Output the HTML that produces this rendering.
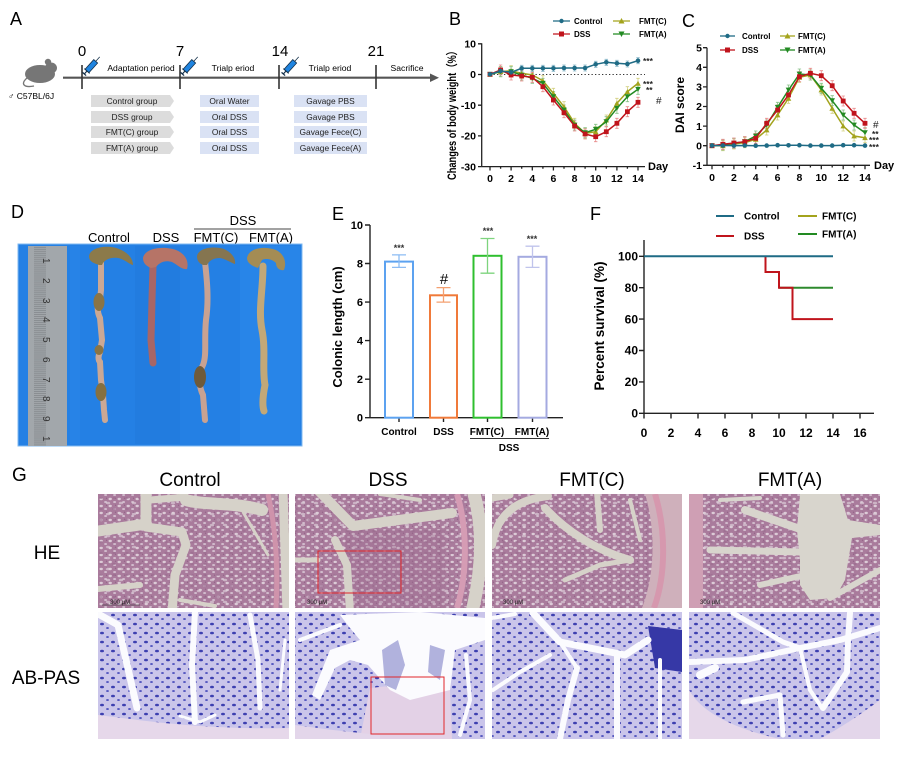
<!DOCTYPE html>
<html><head><meta charset="utf-8"><style>
html,body{margin:0;padding:0;background:#fff;}
svg{display:block;font-family:"Liberation Sans",Arial,sans-serif;}
.b{font-weight:bold;}
</style></head><body>
<svg width="900" height="771" viewBox="0 0 900 771" xmlns="http://www.w3.org/2000/svg">
<defs>
<pattern id="he" width="9" height="7" patternUnits="userSpaceOnUse">
<rect width="9" height="7" fill="#a97b9c"/>
<ellipse cx="2.2" cy="2" rx="1.7" ry="1.2" fill="#dccbd7"/>
<ellipse cx="6.6" cy="5" rx="1.5" ry="1" fill="#d2bccd"/>
<circle cx="7.5" cy="1.2" r="0.6" fill="#8e5f84"/>
</pattern>
<pattern id="he2" width="13" height="11" patternUnits="userSpaceOnUse">
<rect width="13" height="11" fill="none"/>
<ellipse cx="4" cy="8" rx="2.2" ry="1.3" fill="#dccbd7" opacity="0.7"/>
<ellipse cx="10" cy="3" rx="1.8" ry="1.1" fill="#9a6a8e" opacity="0.6"/>
</pattern>
<pattern id="ab" width="11" height="9" patternUnits="userSpaceOnUse">
<rect width="11" height="9" fill="#cac5ea"/>
<ellipse cx="3" cy="3" rx="2" ry="1.3" fill="#3d40b0"/>
<ellipse cx="8.5" cy="7" rx="1.4" ry="1" fill="#5659c0"/>
</pattern>
<pattern id="rul" width="40" height="1.975" patternUnits="userSpaceOnUse">
<line x1="0" y1="0.5" x2="6" y2="0.5" stroke="#6f7478" stroke-width="0.5"/>
<line x1="34" y1="0.5" x2="40" y2="0.5" stroke="#6f7478" stroke-width="0.5"/>
</pattern>
<marker id="mC" markerWidth="6" markerHeight="6" refX="3" refY="3" markerUnits="userSpaceOnUse"><circle cx="3" cy="3" r="2.3" fill="#1f6b85"/></marker>
<marker id="mD" markerWidth="6" markerHeight="6" refX="3" refY="3" markerUnits="userSpaceOnUse"><rect x="0.6" y="0.6" width="4.8" height="4.8" fill="#c0141c"/></marker>
<marker id="mF" markerWidth="6" markerHeight="6" refX="3" refY="3" markerUnits="userSpaceOnUse"><path d="M3,0.4 L5.8,5.4 L0.2,5.4Z" fill="#a3a31c"/></marker>
<marker id="mA" markerWidth="6" markerHeight="6" refX="3" refY="3" markerUnits="userSpaceOnUse"><path d="M0.2,0.6 L5.8,0.6 L3,5.6Z" fill="#228a22"/></marker>
<marker id="eD" markerWidth="6" markerHeight="12" refX="3" refY="6" markerUnits="userSpaceOnUse"><path d="M3,1 V11 M1.3,1 H4.7 M1.3,11 H4.7" stroke="#e88a8a" stroke-width="0.8" fill="none"/></marker>
<marker id="eF" markerWidth="6" markerHeight="12" refX="3" refY="6" markerUnits="userSpaceOnUse"><path d="M3,1 V11 M1.3,1 H4.7 M1.3,11 H4.7" stroke="#d2d080" stroke-width="0.8" fill="none"/></marker>
<marker id="eA" markerWidth="6" markerHeight="12" refX="3" refY="6" markerUnits="userSpaceOnUse"><path d="M3,1 V11 M1.3,1 H4.7 M1.3,11 H4.7" stroke="#86c086" stroke-width="0.8" fill="none"/></marker>
<marker id="eC" markerWidth="6" markerHeight="8" refX="3" refY="4" markerUnits="userSpaceOnUse"><path d="M3,1 V7 M1.3,1 H4.7 M1.3,7 H4.7" stroke="#86b6c8" stroke-width="0.8" fill="none"/></marker>
<g id="syr">
<rect x="0" y="-2.6" width="13" height="5.2" fill="#1f84e0" stroke="#14304a" stroke-width="0.8"/>
<line x1="13" y1="0" x2="19" y2="0" stroke="#14304a" stroke-width="0.8"/>
<line x1="-4" y1="0" x2="0" y2="0" stroke="#14304a" stroke-width="1.2"/>
<line x1="-4" y1="-2.4" x2="-4" y2="2.4" stroke="#14304a" stroke-width="1.2"/>
<line x1="0" y1="-3.6" x2="0" y2="3.6" stroke="#14304a" stroke-width="1"/>
</g>
<clipPath id="c1"><rect x="98" y="494" width="191" height="114"/></clipPath>
<clipPath id="c2"><rect x="295" y="494" width="190" height="114"/></clipPath>
<clipPath id="c3"><rect x="492" y="494" width="190" height="114"/></clipPath>
<clipPath id="c4"><rect x="689" y="494" width="191" height="114"/></clipPath>
<clipPath id="c5"><rect x="98" y="612" width="191" height="127"/></clipPath>
<clipPath id="c6"><rect x="295" y="612" width="190" height="127"/></clipPath>
<clipPath id="c7"><rect x="492" y="612" width="190" height="127"/></clipPath>
<clipPath id="c8"><rect x="689" y="612" width="191" height="127"/></clipPath>
</defs>

<!-- ================= Panel A ================= -->
<text x="10" y="25" font-size="18">A</text>
<g fill="#767676">
<ellipse cx="40" cy="74" rx="15" ry="9"/>
<ellipse cx="51" cy="68" rx="6" ry="5.5"/>
<circle cx="48" cy="62" r="3.2"/>
<path d="M27,78 C20,84 24,88 34,86" stroke="#767676" stroke-width="1.3" fill="none"/>
</g>
<text x="8" y="99" font-size="8.5">♂ C57BL/6J</text>
<line x1="63" y1="77.7" x2="432" y2="77.7" stroke="#555" stroke-width="2.2"/>
<path d="M430,73.5 L439,77.7 L430,82 Z" fill="#555"/>
<g stroke="#333" stroke-width="1.6">
<line x1="82" y1="65" x2="82" y2="89"/>
<line x1="180" y1="65" x2="180" y2="89"/>
<line x1="279" y1="65" x2="279" y2="89"/>
<line x1="376" y1="65" x2="376" y2="89"/>
</g>
<g font-size="15">
<text x="82" y="56" text-anchor="middle">0</text>
<text x="180" y="56" text-anchor="middle">7</text>
<text x="280" y="56" text-anchor="middle">14</text>
<text x="376" y="56" text-anchor="middle">21</text>
</g>
<use href="#syr" transform="translate(87,71) rotate(-48)"/>
<use href="#syr" transform="translate(185,71) rotate(-48)"/>
<use href="#syr" transform="translate(286,71) rotate(-48)"/>
<g font-size="8.6" text-anchor="middle">
<text x="141" y="71">Adaptation period</text>
<text x="233" y="71">Trialp eriod</text>
<text x="330" y="71">Trialp eriod</text>
<text x="407" y="71">Sacrifice</text>
</g>
<g fill="#dcdcdc">
<path d="M91,95 H170 L174,101 L170,107 H91Z"/>
<path d="M91,111 H170 L174,117 L170,123 H91Z"/>
<path d="M91,126 H170 L174,132 L170,138 H91Z"/>
<path d="M91,142 H170 L174,148 L170,154 H91Z"/>
</g>
<g fill="#dae2f4">
<rect x="200" y="95" width="59" height="12"/><rect x="200" y="111" width="59" height="12"/>
<rect x="200" y="126" width="59" height="12"/><rect x="200" y="142" width="59" height="12"/>
<rect x="294" y="95" width="73" height="12"/><rect x="294" y="111" width="73" height="12"/>
<rect x="294" y="126" width="73" height="12"/><rect x="294" y="142" width="73" height="12"/>
</g>
<g font-size="8.4" text-anchor="middle" fill="#222">
<text x="132" y="104">Control group</text>
<text x="132" y="120">DSS group</text>
<text x="132" y="135">FMT(C) group</text>
<text x="132" y="151">FMT(A) group</text>
<text x="229.5" y="104">Oral Water</text>
<text x="229.5" y="120">Oral DSS</text>
<text x="229.5" y="135">Oral DSS</text>
<text x="229.5" y="151">Oral DSS</text>
<text x="330.5" y="104">Gavage PBS</text>
<text x="330.5" y="120">Gavage PBS</text>
<text x="330.5" y="135">Gavage Fece(C)</text>
<text x="330.5" y="151">Gavage Fece(A)</text>
</g>

<!-- ================= Panel B ================= -->
<text x="449" y="25" font-size="18">B</text>
<g class="b" font-size="8">
<line x1="553" y1="21" x2="570" y2="21" stroke="#1f6b85" stroke-width="1.3"/><circle cx="561.5" cy="21" r="2.2" fill="#1f6b85"/>
<text x="574" y="24">Control</text>
<line x1="553" y1="34" x2="570" y2="34" stroke="#c0141c" stroke-width="1.3"/><rect x="559" y="31.5" width="5" height="5" fill="#c0141c"/>
<text x="574" y="37">DSS</text>
<line x1="613" y1="21" x2="630" y2="21" stroke="#a3a31c" stroke-width="1.3"/><path d="M621.5,18 L624.5,23.5 L618.5,23.5Z" fill="#a3a31c"/>
<text x="639" y="24">FMT(C)</text>
<line x1="613" y1="34" x2="630" y2="34" stroke="#228a22" stroke-width="1.3"/><path d="M618.5,31.5 L624.5,31.5 L621.5,37Z" fill="#228a22"/>
<text x="639" y="37">FMT(A)</text>
</g>
<text class="b" font-size="11.5" transform="translate(456,113) rotate(-90)" text-anchor="middle" textLength="134" lengthAdjust="spacingAndGlyphs">Changes of body weight（%）</text>
<g stroke="#222" stroke-width="1.3" fill="none">
<line x1="481.7" y1="43.3" x2="481.7" y2="166.6"/>
<line x1="481.7" y1="166.6" x2="645" y2="166.6"/>
<path d="M478,43.8 H481.7 M478,74.5 H481.7 M478,105.2 H481.7 M478,135.9 H481.7 M478,166.6 H481.7"/>
<path d="M490,166.6 V170.5 M511.1,166.6 V170.5 M532.3,166.6 V170.5 M553.4,166.6 V170.5 M574.6,166.6 V170.5 M595.7,166.6 V170.5 M616.9,166.6 V170.5 M638,166.6 V170.5"/>
<path d="M500.6,166.6 V168.8 M521.7,166.6 V168.8 M542.9,166.6 V168.8 M564,166.6 V168.8 M585.1,166.6 V168.8 M606.3,166.6 V168.8 M627.4,166.6 V168.8"/>
</g>
<g class="b" font-size="10.5" text-anchor="end">
<text x="476" y="47.5">10</text><text x="476" y="78.2">0</text><text x="476" y="108.9">-10</text><text x="476" y="139.6">-20</text><text x="476" y="170.3">-30</text>
</g>
<g class="b" font-size="10.5" text-anchor="middle">
<text x="490" y="182">0</text><text x="511.1" y="182">2</text><text x="532.3" y="182">4</text><text x="553.4" y="182">6</text><text x="574.6" y="182">8</text><text x="595.7" y="182">10</text><text x="616.9" y="182">12</text><text x="638" y="182">14</text>
</g>
<text class="b" x="648" y="170" font-size="11">Day</text>
<line x1="490" y1="74.5" x2="645" y2="74.5" stroke="#333" stroke-width="0.9" stroke-dasharray="1.3 2.2"/>
<polyline fill="none" stroke="none" marker-mid="url(#eF)" marker-end="url(#eF)" points="490,74.3 500.6,71.7 511.1,70.7 521.7,73.3 532.3,75 542.9,80.7 553.4,93.3 564,106.7 574.6,123.3 585.1,133.3 595.7,131.7 606.3,120 616.9,103.3 627.4,91.7 638,83.3"/>
<polyline fill="none" stroke="none" marker-mid="url(#eA)" marker-end="url(#eA)" points="490,74.3 500.6,71.7 511.1,71.7 521.7,75 532.3,78.3 542.9,83.3 553.4,96.7 564,110 574.6,125 585.1,132.7 595.7,129.3 606.3,121.7 616.9,108.3 627.4,96.7 638,89.3"/>
<polyline fill="none" stroke="none" marker-mid="url(#eD)" marker-end="url(#eD)" points="490,74.3 500.6,70 511.1,75 521.7,76 532.3,77.3 542.9,86.7 553.4,100 564,112.7 574.6,126 585.1,134 595.7,136.7 606.3,131.7 616.9,123.3 627.4,111.7 638,102.3"/>
<polyline fill="none" stroke="none" marker-mid="url(#eC)" marker-end="url(#eC)" points="490,74.3 500.6,71 511.1,72.3 521.7,68.3 532.3,68.3 542.9,68.3 553.4,68.3 564,68 574.6,68 585.1,68 595.7,64.3 606.3,62.3 616.9,63.3 627.4,64 638,60.7"/>
<polyline fill="none" stroke="#a3a31c" stroke-width="1.5" marker-start="url(#mF)" marker-mid="url(#mF)" marker-end="url(#mF)" points="490,74.3 500.6,71.7 511.1,70.7 521.7,73.3 532.3,75 542.9,80.7 553.4,93.3 564,106.7 574.6,123.3 585.1,133.3 595.7,131.7 606.3,120 616.9,103.3 627.4,91.7 638,83.3"/>
<polyline fill="none" stroke="#228a22" stroke-width="1.5" marker-start="url(#mA)" marker-mid="url(#mA)" marker-end="url(#mA)" points="490,74.3 500.6,71.7 511.1,71.7 521.7,75 532.3,78.3 542.9,83.3 553.4,96.7 564,110 574.6,125 585.1,132.7 595.7,129.3 606.3,121.7 616.9,108.3 627.4,96.7 638,89.3"/>
<polyline fill="none" stroke="#c0141c" stroke-width="1.5" marker-start="url(#mD)" marker-mid="url(#mD)" marker-end="url(#mD)" points="490,74.3 500.6,70 511.1,75 521.7,76 532.3,77.3 542.9,86.7 553.4,100 564,112.7 574.6,126 585.1,134 595.7,136.7 606.3,131.7 616.9,123.3 627.4,111.7 638,102.3"/>
<polyline fill="none" stroke="#1f6b85" stroke-width="1.5" marker-start="url(#mC)" marker-mid="url(#mC)" marker-end="url(#mC)" points="490,74.3 500.6,71 511.1,72.3 521.7,68.3 532.3,68.3 542.9,68.3 553.4,68.3 564,68 574.6,68 585.1,68 595.7,64.3 606.3,62.3 616.9,63.3 627.4,64 638,60.7"/>
<g class="b" font-size="8.5" fill="#222">
<text x="643" y="64">***</text><text x="643" y="87">***</text><text x="646" y="93">**</text><text x="656" y="104" font-size="10" font-weight="normal">#</text>
</g>

<!-- ================= Panel C ================= -->
<text x="682" y="27" font-size="18">C</text>
<g class="b" font-size="8">
<line x1="720" y1="36" x2="735" y2="36" stroke="#1f6b85" stroke-width="1.3"/><circle cx="727.5" cy="36" r="2.2" fill="#1f6b85"/>
<text x="742" y="39">Control</text>
<line x1="720" y1="50" x2="735" y2="50" stroke="#c0141c" stroke-width="1.3"/><rect x="725" y="47.5" width="5" height="5" fill="#c0141c"/>
<text x="742" y="53">DSS</text>
<line x1="780" y1="36" x2="795" y2="36" stroke="#a3a31c" stroke-width="1.3"/><path d="M787.5,33 L790.5,38.5 L784.5,38.5Z" fill="#a3a31c"/>
<text x="798" y="39">FMT(C)</text>
<line x1="780" y1="50" x2="795" y2="50" stroke="#228a22" stroke-width="1.3"/><path d="M784.5,47.5 L790.5,47.5 L787.5,53Z" fill="#228a22"/>
<text x="798" y="53">FMT(A)</text>
</g>
<text class="b" font-size="12" transform="translate(684,105) rotate(-90)" text-anchor="middle">DAI score</text>
<g stroke="#222" stroke-width="1.3" fill="none">
<line x1="707" y1="47.7" x2="707" y2="165.3"/>
<line x1="707" y1="165.3" x2="870" y2="165.3"/>
<path d="M703,47.7 H707 M703,67.3 H707 M703,86.9 H707 M703,106.5 H707 M703,126.1 H707 M703,145.7 H707 M703,165.3 H707"/>
<path d="M712,165.3 V169.2 M733.9,165.3 V169.2 M755.7,165.3 V169.2 M777.6,165.3 V169.2 M799.4,165.3 V169.2 M821.3,165.3 V169.2 M843.2,165.3 V169.2 M865,165.3 V169.2"/>
<path d="M722.9,165.3 V167.5 M744.8,165.3 V167.5 M766.7,165.3 V167.5 M788.5,165.3 V167.5 M810.4,165.3 V167.5 M832.2,165.3 V167.5 M854.1,165.3 V167.5"/>
</g>
<g class="b" font-size="10.5" text-anchor="end">
<text x="702" y="51.4">5</text><text x="702" y="71">4</text><text x="702" y="90.6">3</text><text x="702" y="110.2">2</text><text x="702" y="129.8">1</text><text x="702" y="149.4">0</text><text x="702" y="169">-1</text>
</g>
<g class="b" font-size="10.5" text-anchor="middle">
<text x="712" y="181">0</text><text x="733.9" y="181">2</text><text x="755.7" y="181">4</text><text x="777.6" y="181">6</text><text x="799.4" y="181">8</text><text x="821.3" y="181">10</text><text x="843.2" y="181">12</text><text x="865" y="181">14</text>
</g>
<text class="b" x="874" y="169" font-size="11">Day</text>
<polyline fill="none" stroke="none" marker-mid="url(#eF)" marker-end="url(#eF)" points="712,145.7 722.9,145.7 733.9,144 744.8,142.7 755.7,139.3 766.7,130 777.6,115 788.5,98.3 799.4,77.3 810.4,75 821.3,90 832.2,108.3 843.2,126 854.1,136 865,137.7"/>
<polyline fill="none" stroke="none" marker-mid="url(#eA)" marker-end="url(#eA)" points="712,145.7 722.9,145 733.9,143.3 744.8,141.7 755.7,136 766.7,125 777.6,107.3 788.5,90 799.4,74 810.4,75 821.3,88.3 832.2,100.7 843.2,115 854.1,125 865,132.7"/>
<polyline fill="none" stroke="none" marker-mid="url(#eD)" marker-end="url(#eD)" points="712,145.7 722.9,144.3 733.9,143 744.8,141.7 755.7,138.3 766.7,123.3 777.6,110 788.5,95 799.4,76.7 810.4,73.3 821.3,75.7 832.2,85.7 843.2,101 854.1,113.3 865,123.3"/>
<polyline fill="none" stroke="#a3a31c" stroke-width="1.5" marker-start="url(#mF)" marker-mid="url(#mF)" marker-end="url(#mF)" points="712,145.7 722.9,145.7 733.9,144 744.8,142.7 755.7,139.3 766.7,130 777.6,115 788.5,98.3 799.4,77.3 810.4,75 821.3,90 832.2,108.3 843.2,126 854.1,136 865,137.7"/>
<polyline fill="none" stroke="#228a22" stroke-width="1.5" marker-start="url(#mA)" marker-mid="url(#mA)" marker-end="url(#mA)" points="712,145.7 722.9,145 733.9,143.3 744.8,141.7 755.7,136 766.7,125 777.6,107.3 788.5,90 799.4,74 810.4,75 821.3,88.3 832.2,100.7 843.2,115 854.1,125 865,132.7"/>
<polyline fill="none" stroke="#c0141c" stroke-width="1.5" marker-start="url(#mD)" marker-mid="url(#mD)" marker-end="url(#mD)" points="712,145.7 722.9,144.3 733.9,143 744.8,141.7 755.7,138.3 766.7,123.3 777.6,110 788.5,95 799.4,76.7 810.4,73.3 821.3,75.7 832.2,85.7 843.2,101 854.1,113.3 865,123.3"/>
<polyline fill="none" stroke="#1f6b85" stroke-width="1.5" marker-start="url(#mC)" marker-mid="url(#mC)" marker-end="url(#mC)" points="712,145.6 722.9,145.5 733.9,145.6 744.8,145.5 755.7,145.7 766.7,145.6 777.6,145.2 788.5,145.3 799.4,145.2 810.4,145.6 821.3,145.6 832.2,145.6 843.2,145.2 854.1,145.2 865,145.6"/>
<g class="b" font-size="8.5" fill="#222">
<text x="873" y="128" font-size="10" font-weight="normal">#</text><text x="872" y="137">**</text><text x="869" y="143">***</text><text x="869" y="150">***</text>
</g>

<!-- ================= Panel D ================= -->
<text x="11" y="218" font-size="18">D</text>
<g font-size="13" text-anchor="middle">
<text x="109" y="242">Control</text>
<text x="166" y="242">DSS</text>
<text x="216" y="242">FMT(C)</text>
<text x="271" y="242">FMT(A)</text>
<text x="243" y="225">DSS</text>
</g>
<line x1="194" y1="229" x2="291" y2="229" stroke="#444" stroke-width="1"/>
<rect x="18" y="244" width="284" height="202" fill="#2480e4"/>
<rect x="18" y="244" width="284" height="202" fill="none" stroke="#7fb8f0" stroke-width="1"/>
<rect x="70" y="246" width="10" height="198" fill="#2a86ea" opacity="0.6"/>
<rect x="135" y="246" width="45" height="198" fill="#1f78da" opacity="0.5"/>
<rect x="240" y="246" width="60" height="198" fill="#2c8aec" opacity="0.5"/>
<rect x="28" y="246" width="39" height="200" fill="#a2a7ab"/>
<rect x="28" y="246" width="39" height="200" fill="url(#rul)"/>
<g font-size="10" fill="#333">
<text transform="translate(43,258) rotate(90)">1</text>
<text transform="translate(43,278) rotate(90)">2</text>
<text transform="translate(43,298) rotate(90)">3</text>
<text transform="translate(43,317) rotate(90)">4</text>
<text transform="translate(43,337) rotate(90)">5</text>
<text transform="translate(43,357) rotate(90)">6</text>
<text transform="translate(43,377) rotate(90)">7</text>
<text transform="translate(43,396) rotate(90)">8</text>
<text transform="translate(43,416) rotate(90)">9</text>
<text transform="translate(43,436) rotate(90)">1</text>
</g>
<path d="M101,262 L101,290 L100,300 C97,305 97,312 100,318 L102,340 L100,352 C98,356 98,360 100,362 L101,380 L103,395 L104,410 L105,420" stroke="#cba894" stroke-width="6" fill="none" stroke-linecap="round"/>
<ellipse cx="99" cy="302" rx="5.5" ry="9" fill="#8a7445"/>
<ellipse cx="99" cy="350" rx="4.5" ry="5" fill="#8a7445"/>
<ellipse cx="101" cy="392" rx="5.5" ry="9" fill="#857040"/>
<path d="M89,256 C91,246 110,245 119,249 C127,252 133,258 133,265 C129,264 124,259 118,258 C110,257 104,260 102,265 L99,265 C94,263 89,262 89,256Z" fill="#8c7a4a"/>
<path d="M153,266 L152,300 L151,340 L153,363" stroke="#a86666" stroke-width="7" fill="none" stroke-linecap="round"/>
<path d="M143,258 C145,247 166,246 176,250 C186,254 189,262 187,269 C182,270 178,265 172,262 C165,260 160,262 156,267 L151,268 C146,266 143,263 143,258Z" fill="#b67467"/>
<path d="M205,262 C207,280 209,300 206,320 C204,340 207,355 203,365 C199,372 198,385 203,395 L205,420" stroke="#c8a292" stroke-width="6" fill="none" stroke-linecap="round"/>
<ellipse cx="200" cy="377" rx="6" ry="11" fill="#6e5a3a"/>
<path d="M197,256 C199,247 215,246 224,249 C231,252 236,258 235,264 C231,263 226,259 220,258 C213,258 209,261 207,265 L203,265 C199,263 197,261 197,256Z" fill="#857550"/>
<path d="M263,266 C263,290 258,310 262,330 C266,350 262,370 265,385 C263,395 262,405 264,411" stroke="#c2a878" stroke-width="7" fill="none" stroke-linecap="round"/>
<path d="M247,258 C249,247 266,246 276,250 C284,254 287,262 284,270 C280,271 276,268 276,263 C272,259 266,258 262,260 L258,268 C252,266 247,263 247,258Z" fill="#a48c54"/>

<!-- ================= Panel E ================= -->
<text x="332" y="220" font-size="18">E</text>
<text class="b" font-size="13" transform="translate(342,327) rotate(-90)" text-anchor="middle">Colonic length (cm)</text>
<g stroke="#222" stroke-width="1.4" fill="none">
<line x1="370" y1="225" x2="370" y2="417.7"/>
<line x1="370" y1="417.7" x2="563" y2="417.7"/>
<path d="M365,225 H370 M365,263.5 H370 M365,302.1 H370 M365,340.6 H370 M365,379.2 H370 M365,417.7 H370"/>
<path d="M399,417.7 V422 M443.5,417.7 V422 M487.5,417.7 V422 M532.5,417.7 V422"/>
</g>
<g class="b" font-size="11" text-anchor="end">
<text x="363" y="229">10</text><text x="363" y="267.5">8</text><text x="363" y="306">6</text><text x="363" y="344.6">4</text><text x="363" y="383.2">2</text><text x="363" y="421.7">0</text>
</g>
<rect x="385" y="261.6" width="28" height="156.1" fill="#fff" stroke="#5ca2f0" stroke-width="2"/>
<rect x="430" y="295.3" width="27" height="122.4" fill="#fff" stroke="#f07a3a" stroke-width="2"/>
<rect x="473.5" y="255.8" width="28" height="161.9" fill="#fff" stroke="#2fbf2f" stroke-width="2"/>
<rect x="518.5" y="256.8" width="28" height="160.9" fill="#fff" stroke="#a4aae0" stroke-width="2"/>
<g fill="none" stroke-width="1.3">
<path d="M399,254.9 V267.4 M392,254.9 H406 M392,267.4 H406" stroke="#8cbcf4"/>
<path d="M443.5,287.6 V302.1 M436.5,287.6 H450.5 M436.5,302.1 H450.5" stroke="#f4a070"/>
<path d="M487.5,238.5 V273.2 M480.5,238.5 H494.5 M480.5,273.2 H494.5" stroke="#7ed47e"/>
<path d="M532.5,246.2 V267.4 M525.5,246.2 H539.5 M525.5,267.4 H539.5" stroke="#c0c4ec"/>
</g>
<g font-size="9" class="b" text-anchor="middle" fill="#333">
<text x="399" y="251">***</text><text x="488" y="234">***</text><text x="532" y="242">***</text>
</g>
<text x="444" y="284" font-size="15" text-anchor="middle">#</text>
<g class="b" font-size="10" text-anchor="middle">
<text x="399" y="435">Control</text><text x="443.5" y="435">DSS</text><text x="487" y="435">FMT(C)</text><text x="532" y="435">FMT(A)</text>
<text x="509" y="451">DSS</text>
</g>
<line x1="470" y1="438.5" x2="549" y2="438.5" stroke="#333" stroke-width="1"/>

<!-- ================= Panel F ================= -->
<text x="590" y="220" font-size="18">F</text>
<g class="b" font-size="10">
<line x1="716" y1="216" x2="734" y2="216" stroke="#1f6b85" stroke-width="2"/><text x="744" y="219.5">Control</text>
<line x1="716" y1="236" x2="734" y2="236" stroke="#c0141c" stroke-width="2"/><text x="744" y="239.5">DSS</text>
<line x1="798" y1="216" x2="817" y2="216" stroke="#a3a31c" stroke-width="2"/><text x="822" y="219.5">FMT(C)</text>
<line x1="798" y1="234" x2="817" y2="234" stroke="#228a22" stroke-width="2"/><text x="822" y="237.5">FMT(A)</text>
</g>
<text class="b" font-size="13.5" transform="translate(604,326) rotate(-90)" text-anchor="middle">Percent survival (%)</text>
<g stroke="#222" stroke-width="1.4" fill="none">
<line x1="644" y1="240" x2="644" y2="413.3"/>
<line x1="644" y1="413.3" x2="874" y2="413.3"/>
<path d="M639,256.3 H644 M639,287.7 H644 M639,319.1 H644 M639,350.5 H644 M639,381.9 H644 M639,413.3 H644"/>
<path d="M644,413.3 V418.5 M671,413.3 V418.5 M698,413.3 V418.5 M725,413.3 V418.5 M752,413.3 V418.5 M779,413.3 V418.5 M806,413.3 V418.5 M833,413.3 V418.5 M860,413.3 V418.5"/>
</g>
<g class="b" font-size="12" text-anchor="end">
<text x="638" y="260.5">100</text><text x="638" y="292">80</text><text x="638" y="323.3">60</text><text x="638" y="354.7">40</text><text x="638" y="386.1">20</text><text x="638" y="417.5">0</text>
</g>
<g class="b" font-size="12" text-anchor="middle">
<text x="644" y="437">0</text><text x="671" y="437">2</text><text x="698" y="437">4</text><text x="725" y="437">6</text><text x="752" y="437">8</text><text x="779" y="437">10</text><text x="806" y="437">12</text><text x="833" y="437">14</text><text x="860" y="437">16</text>
</g>
<path d="M779,287.7 H833" stroke="#2e8a2e" stroke-width="2" fill="none"/>
<path d="M765.5,256.3 V272 H779 V287.7 H792.5 V319.1 H833" stroke="#c0141c" stroke-width="2" fill="none"/>
<path d="M644,256.3 H833" stroke="#1f6b85" stroke-width="2" fill="none"/>

<!-- ================= Panel G ================= -->
<text x="12" y="481" font-size="19">G</text>
<g font-size="19" text-anchor="middle">
<text x="190" y="486">Control</text>
<text x="388" y="486">DSS</text>
<text x="592" y="486">FMT(C)</text>
<text x="790" y="486">FMT(A)</text>
<text x="47" y="559">HE</text>
<text x="46" y="684">AB-PAS</text>
</g>
<!-- HE Control -->
<g clip-path="url(#c1)">
<rect x="98" y="494" width="191" height="114" fill="url(#he)"/>
<rect x="98" y="494" width="191" height="114" fill="url(#he2)"/>
<g stroke="#d6d2c9" fill="none" stroke-linecap="round" stroke-linejoin="round">
<path d="M146,490 L146,524 L98,531" stroke-width="11"/>
<path d="M146,527 L182,532 L186,545 L175,575 L172,612" stroke-width="9"/>
<path d="M186,500 C200,505 235,502 262,510" stroke-width="12"/>
<path d="M150,500 L186,497" stroke-width="7"/>
<path d="M98,589 L140,585" stroke-width="6"/>
<path d="M243,512 L268,555" stroke-width="3"/>
<path d="M283,490 L287,612" stroke-width="9"/>
<path d="M180,600 L215,606" stroke-width="4"/>
</g>
<path d="M268,494 C276,530 278,570 276,608" stroke="#cf93ab" stroke-width="5" fill="none"/>
</g>
<text x="110" y="604" font-size="6" fill="#222">300 μM</text>
<line x1="102" y1="605" x2="140" y2="605" stroke="#222" stroke-width="0.6"/>
<!-- HE DSS -->
<g clip-path="url(#c2)">
<rect x="295" y="494" width="190" height="114" fill="url(#he)"/>
<rect x="295" y="494" width="190" height="114" fill="url(#he2)"/>
<rect x="345" y="530" width="100" height="78" fill="#9c6b90" opacity="0.3"/>
<g stroke="#d6d2c9" fill="none" stroke-linecap="round" stroke-linejoin="round">
<path d="M318,490 L353,526 L452,513" stroke-width="10"/>
<path d="M335,540 L347,565 L350,612" stroke-width="8"/>
<path d="M295,560 L318,560" stroke-width="5"/>
<path d="M474,494 C484,530 482,570 472,612" stroke-width="13"/>
<path d="M380,494 L420,500" stroke-width="4"/>
</g>
<path d="M457,494 C468,530 467,575 457,608" stroke="#d59cb4" stroke-width="6" fill="none"/>
</g>
<rect x="318" y="551" width="83" height="42" fill="none" stroke="#e0262a" stroke-width="1"/>
<text x="307" y="604" font-size="6" fill="#222">300 μM</text>
<!-- HE FMT(C) -->
<g clip-path="url(#c3)">
<rect x="492" y="494" width="190" height="114" fill="url(#he)"/>
<rect x="492" y="494" width="190" height="114" fill="url(#he2)"/>
<path d="M645,494 C656,530 655,575 642,608 L682,608 L682,494Z" fill="#cfb0bb"/>
<path d="M655,494 C666,530 666,575 654,608" stroke="#d792ab" stroke-width="6" fill="none" opacity="0.8"/>
<g stroke="#d6d2c9" fill="none" stroke-linecap="round" stroke-linejoin="round">
<path d="M492,545 C497,515 515,500 548,496" stroke-width="8"/>
<path d="M545,508 C565,530 595,550 630,560" stroke-width="8"/>
<path d="M597,492 L600,530" stroke-width="6"/>
<path d="M492,498 L510,495" stroke-width="7"/>
<path d="M565,580 L600,565 L630,560" stroke-width="5"/>
<path d="M630,500 L640,540" stroke-width="4"/>
</g>
</g>
<text x="503" y="604" font-size="6" fill="#222">300 μM</text>
<!-- HE FMT(A) -->
<g clip-path="url(#c4)">
<rect x="689" y="494" width="191" height="114" fill="url(#he)"/>
<rect x="689" y="494" width="191" height="114" fill="url(#he2)"/>
<rect x="689" y="494" width="14" height="114" fill="#cf9fb4"/>
<g fill="#d8d5cd">
<path d="M800,494 L840,494 L848,520 L880,525 L880,535 L852,538 L845,580 L835,598 L810,600 L800,585 L800,560 L797,530Z"/>
</g>
<g stroke="#d8d5cd" fill="none" stroke-linecap="round">
<path d="M745,510 L803,530" stroke-width="8"/>
<path d="M710,550 L800,552" stroke-width="7"/>
<path d="M760,585 L805,575" stroke-width="6"/>
<path d="M830,598 L880,570" stroke-width="6"/>
<path d="M720,500 L760,498" stroke-width="4"/>
</g>
</g>
<text x="700" y="604" font-size="6" fill="#222">300 μM</text>
<!-- AB Control -->
<g clip-path="url(#c5)">
<rect x="98" y="612" width="191" height="127" fill="url(#ab)"/>
<path d="M98,715 C140,720 200,730 289,728 L289,739 L98,739Z" fill="#e6d8ea"/>
<g stroke="#fbfbfe" fill="none" stroke-linecap="round" stroke-linejoin="round">
<path d="M100,615 L118,625 L137,708" stroke-width="7"/>
<path d="M195,612 L192,665 L195,722" stroke-width="6"/>
<path d="M250,615 L258,660 L260,708" stroke-width="5"/>
<path d="M180,716 L200,722 L215,715" stroke-width="3"/>
<path d="M285,640 L280,690" stroke-width="3"/>
</g>
</g>
<!-- AB DSS -->
<g clip-path="url(#c6)">
<rect x="295" y="612" width="190" height="127" fill="url(#ab)"/>
<path d="M370,688 C400,684 430,686 450,690 L452,739 L360,739 Z" fill="#e3d1e6"/>
<path d="M295,725 C330,730 360,733 380,735 L380,739 L295,739Z" fill="#e3d6ea"/>
<g fill="#fbfbfe">
<path d="M340,615 L420,612 L485,618 L485,640 L455,650 L450,690 L410,700 L390,690 L368,665 L350,660 L335,668 L320,700 L312,695 L330,650 L360,640 L350,628Z"/>
</g>
<g stroke="#fbfbfe" fill="none" stroke-linecap="round">
<path d="M300,640 L340,625" stroke-width="4"/>
<path d="M466,655 L470,700 L460,735" stroke-width="4"/>
</g>
<g fill="#9fa0d6" opacity="0.8">
<path d="M382,650 L398,640 L405,665 L396,690 L385,685Z"/>
<path d="M430,645 L445,650 L440,680 L428,672Z"/>
</g>
</g>
<rect x="371" y="677" width="73" height="57" fill="none" stroke="#e0262a" stroke-width="1"/>
<!-- AB FMT(C) -->
<g clip-path="url(#c7)">
<rect x="492" y="612" width="190" height="127" fill="url(#ab)"/>
<path d="M648,626 L682,630 L682,672 L655,668Z" fill="#3638a6"/>
<g stroke="#fbfbfe" fill="none" stroke-linecap="round" stroke-linejoin="round">
<path d="M533,613 L560,642 L600,650 L625,655 L648,640" stroke-width="7"/>
<path d="M577,668 L568,700 L560,739" stroke-width="6"/>
<path d="M617,655 L617,739" stroke-width="6"/>
<path d="M493,690 L520,672 L550,655" stroke-width="4"/>
<path d="M560,642 L577,668" stroke-width="4"/>
<path d="M660,660 L660,739" stroke-width="4"/>
<path d="M492,618 L515,614" stroke-width="4"/>
</g>
</g>
<!-- AB FMT(A) -->
<g clip-path="url(#c8)">
<rect x="689" y="612" width="191" height="127" fill="url(#ab)"/>
<path d="M689,690 C700,710 730,728 780,739 L689,739Z" fill="#e6d8ea"/>
<path d="M820,739 C840,728 860,715 880,700 L880,739Z" fill="#e3d6ea"/>
<g stroke="#fbfbfe" fill="none" stroke-linecap="round" stroke-linejoin="round">
<path d="M690,662 L745,660 L800,648 L840,640 L880,628" stroke-width="6"/>
<path d="M733,613 L783,642 L800,648" stroke-width="5"/>
<path d="M850,613 L848,640 L847,672 L823,708" stroke-width="6"/>
<path d="M743,702 L780,695 L783,735" stroke-width="5"/>
<path d="M800,648 L810,690 L822,708" stroke-width="4"/>
<path d="M700,675 L715,668" stroke-width="8"/>
</g>
</g>
</svg>
</body></html>
